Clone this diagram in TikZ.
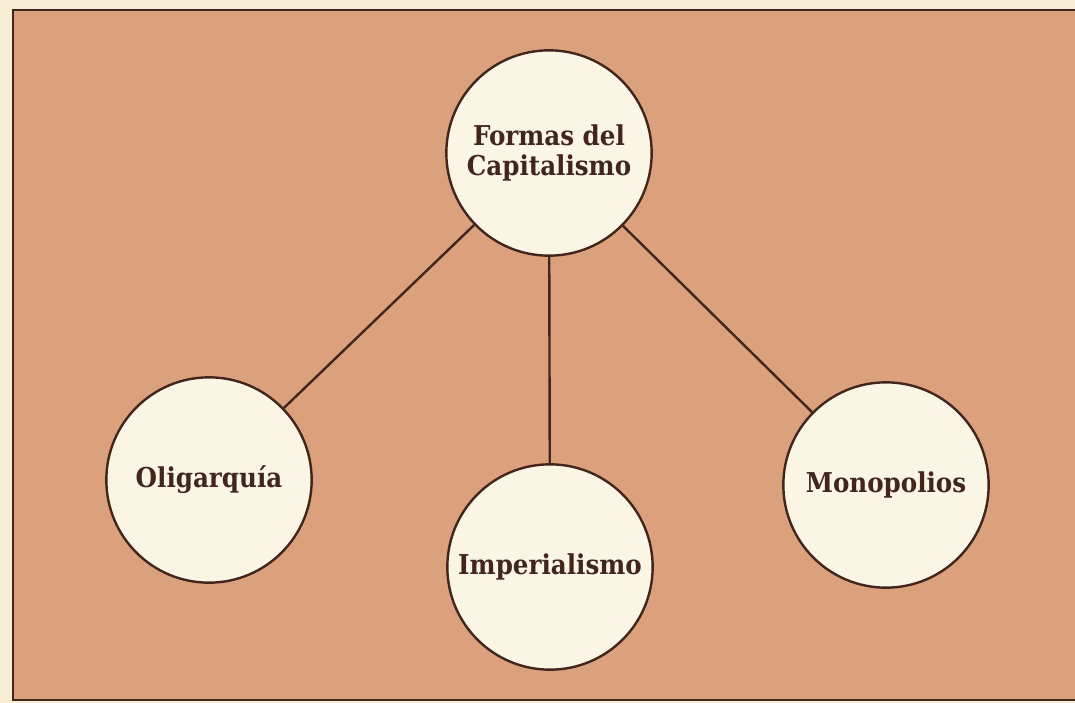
\documentclass[tikz,border=0pt]{standalone}
\usepackage{fontspec}
\setmainfont{DejaVu Serif Condensed}
\definecolor{paper}{RGB}{248,238,214}
\definecolor{card}{RGB}{219,160,124}
\definecolor{ink}{RGB}{66,38,30}
\definecolor{disc}{RGB}{250,245,228}
\begin{document}
\begin{tikzpicture}[x=0.75pt, y=-0.75pt,
  every node/.style={font=\bfseries\fontsize{20.5}{23}\selectfont, text=ink},
  bubble/.style={circle, draw=ink, line width=1.8pt, fill=disc, minimum size=154pt, inner sep=0pt, align=center}]
  \useasboundingbox (0,0) rectangle (1075,703);
  % paper and card
  \fill[paper] (0,0) rectangle (1075,703);
  \fill[card] (13,10) rectangle (1075,700);
  \draw[ink, line width=1.8pt] (1075,10) -- (13,10) -- (13,700) -- (1075,700);
  % circles
  \node[bubble] (root) at (549,153) {Formas del\\Capitalismo};
  \foreach \name/\x/\y/\txt in {olig/209/480/Oligarquía, imp/550/567/Imperialismo, mono/886/485/Monopolios} {
    \node[bubble] (\name) at (\x,\y) {\txt};
    \draw[ink, line width=1.8pt] (root) -- (\name);
  }
\end{tikzpicture}
\end{document}
